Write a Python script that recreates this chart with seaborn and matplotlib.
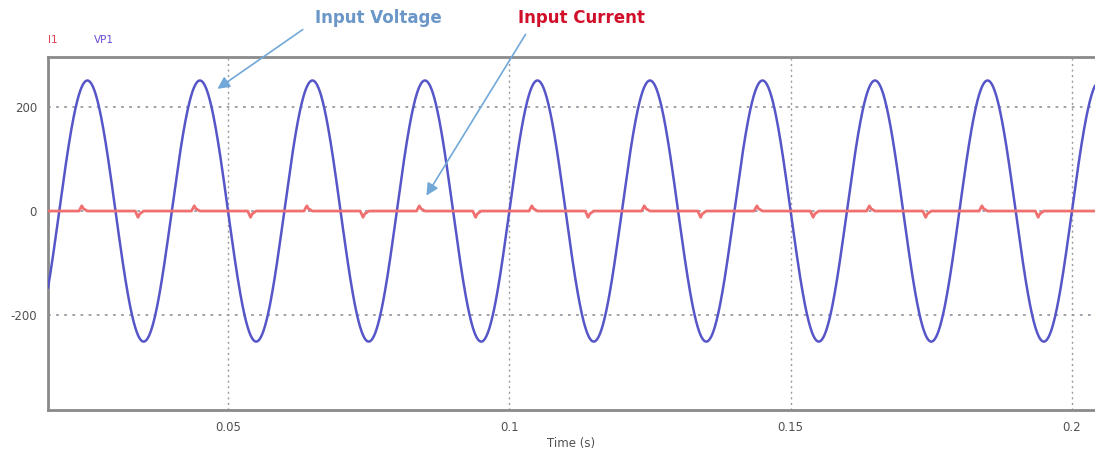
import numpy as np
import pandas as pd
import matplotlib
matplotlib.use("Agg")
import matplotlib.pyplot as plt
import seaborn as sns

# ---- data ----
# VP1: sinusoidal source (parameters read from the peaks / period)
vp1_amplitude = 250.0      # V
vp1_frequency = 50.0       # Hz
vp1_phase = 0.0            # rad
time_start = 0.018
time_end = 0.2041

# I1: short charging spikes near each voltage peak / trough
spike_times = [0.024, 0.034, 0.044, 0.054, 0.064, 0.074, 0.084, 0.094, 0.104,
               0.114, 0.124, 0.134, 0.144, 0.154, 0.164, 0.174, 0.184, 0.194]
spike_peaks = [10, -12, 10, -12, 10, -12, 10, -12, 10,
               -12, 10, -12, 10, -12, 10, -12, 10, -12]
spike_offsets = [-0.0005, 0.0, 0.0003, 0.0010]
spike_shape = [0.0, 1.0, 0.45, 0.0]

x_ticks = [0.05, 0.1, 0.15, 0.2]
x_tick_labels = ["0.05", "0.1", "0.15", "0.2"]
y_ticks = [-200, 0, 200]
y_tick_labels = ["-200", "0", "200"]

# ---- build frames ----
t = np.linspace(time_start, time_end, 4000)
v = vp1_amplitude * np.sin(2 * np.pi * vp1_frequency * t + vp1_phase)
df_v = pd.DataFrame({"t": t, "v": v})

ct, cv = [time_start], [0.0]
for st, sp in zip(spike_times, spike_peaks):
    for o, s in zip(spike_offsets, spike_shape):
        ct.append(st + o)
        cv.append(sp * s)
ct.append(time_end)
cv.append(0.0)
df_i = pd.DataFrame({"t": ct, "i": cv})

sns.set_style("white")
fig = plt.figure(figsize=(10.95, 4.5), dpi=100)
ax = fig.add_axes([48 / 1095, 1 - 410 / 450, 1 - 48 / 1095, (410 - 57) / 450])

# grid
for xt in x_ticks:
    ax.axvline(xt, color="#9a9a9a", lw=1.0, ls=(0, (1.5, 2.5)), zorder=0)
for yt in y_ticks:
    ax.axhline(yt, color="#9a9aa8", lw=1.3, ls=(0, (1.5, 3)), zorder=0)

sns.lineplot(data=df_v, x="t", y="v", ax=ax, color="#5656c8", lw=1.8, zorder=3)
sns.lineplot(data=df_i, x="t", y="i", ax=ax, color="#f07070", lw=2.0, zorder=4)

ax.set_xlim(time_start, time_end)
ax.set_ylim(-381, 295)
ax.set_xticks(x_ticks)
ax.set_xticklabels(x_tick_labels)
ax.set_yticks(y_ticks)
ax.set_yticklabels(y_tick_labels)
ax.tick_params(axis="both", length=0, labelsize=8.5, labelcolor="#505050", pad=8)
ax.set_xlabel("Time (s)", fontsize=8.5, color="#505050", labelpad=2)
ax.set_ylabel("")
for side in ["left", "top", "bottom"]:
    ax.spines[side].set_color("#8a8a8a")
    ax.spines[side].set_linewidth(2.0)
ax.spines["right"].set_visible(False)

# legend-like labels
fig.text(48 / 1095, 1 - 40 / 450, "I1", color="#e04050", fontsize=7.5, ha="left", va="center")
fig.text(94 / 1095, 1 - 40 / 450, "VP1", color="#6a4ad0", fontsize=7.5, ha="left", va="center")

# annotations
fig.text(378 / 1095, 1 - 18 / 450, "Input Voltage", color="#6a96c8", fontsize=12,
         fontweight="bold", ha="center", va="center")
fig.text(581 / 1095, 1 - 18 / 450, "Input Current", color="#d0102a", fontsize=12,
         fontweight="bold", ha="center", va="center")
ax.annotate("", xy=(0.0477, 231), xycoords="data",
            xytext=(305 / 1095, 1 - 28 / 450), textcoords="figure fraction",
            arrowprops=dict(arrowstyle="-|>", color="#72a8d8", lw=1.2,
                            mutation_scale=18), annotation_clip=False)
ax.annotate("", xy=(0.085, 25), xycoords="data",
            xytext=(527 / 1095, 1 - 32 / 450), textcoords="figure fraction",
            arrowprops=dict(arrowstyle="-|>", color="#72a8d8", lw=1.2,
                            mutation_scale=18), annotation_clip=False)

fig.savefig("out.png", dpi=100)
